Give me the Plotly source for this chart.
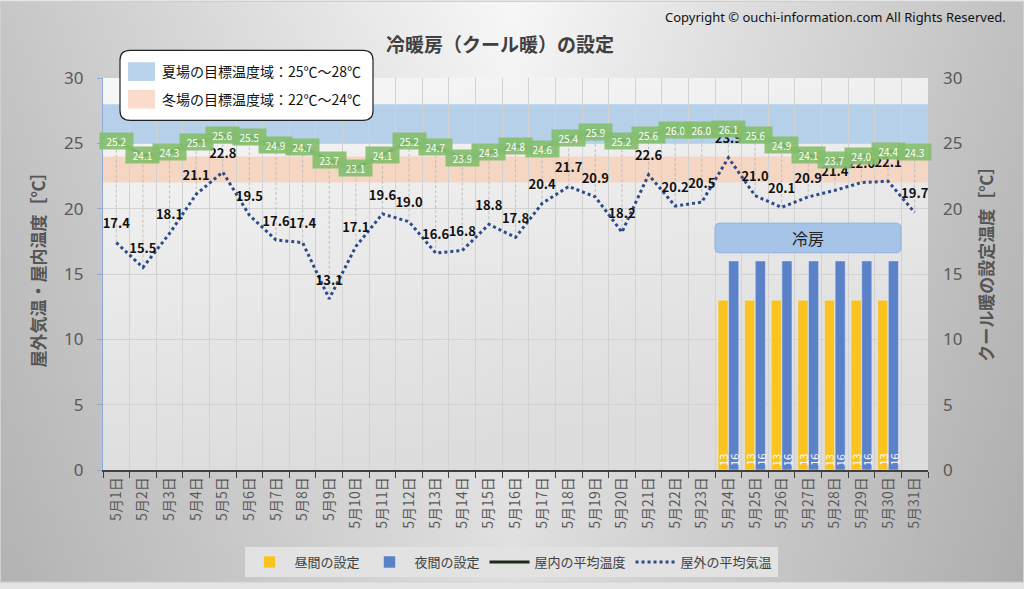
import base64
import plotly.graph_objects as go

# ---------------- data ----------------
days = ["5月1日", "5月2日", "5月3日", "5月4日", "5月5日", "5月6日", "5月7日", "5月8日",
        "5月9日", "5月10日", "5月11日", "5月12日", "5月13日", "5月14日", "5月15日", "5月16日",
        "5月17日", "5月18日", "5月19日", "5月20日", "5月21日", "5月22日", "5月23日", "5月24日",
        "5月25日", "5月26日", "5月27日", "5月28日", "5月29日", "5月30日", "5月31日"]
indoor = [25.2, 24.1, 24.3, 25.1, 25.6, 25.5, 24.9, 24.7, 23.7, 23.1, 24.1, 25.2, 24.7, 23.9, 24.3, 24.8,
          24.6, 25.4, 25.9, 25.2, 25.6, 26.0, 26.0, 26.1, 25.6, 24.9, 24.1, 23.7, 24.0, 24.4, 24.3]
outdoor = [17.4, 15.5, 18.1, 21.1, 22.8, 19.5, 17.6, 17.4, 13.1, 17.1, 19.6, 19.0, 16.6, 16.8, 18.8, 17.8,
           20.4, 21.7, 20.9, 18.2, 22.6, 20.2, 20.5, 23.9, 21.0, 20.1, 20.9, 21.4, 22.0, 22.1, 19.7]
day_setting = [None, None, None, None, None, None, None, None, None, None, None, None, None, None, None, None,
               None, None, None, None, None, None, None, 13, 13, 13, 13, 13, 13, 13, None]
night_setting = [None, None, None, None, None, None, None, None, None, None, None, None, None, None, None, None,
                 None, None, None, None, None, None, None, 16, 16, 16, 16, 16, 16, 16, None]
summer_band = [25, 28]
winter_band = [22, 24]
y_ticks = [0, 5, 10, 15, 20, 25, 30]

title_text = "冷暖房（クール暖）の設定"
copyright_text = "Copyright © ouchi-information.com All Rights Reserved."
left_title = "屋外気温・屋内温度［℃］"
right_title = "クール暖の設定温度［℃］"
summer_label = "夏場の目標温度域：25℃～28℃"
winter_label = "冬場の目標温度域：22℃～24℃"
mode_label = "冷房"

# ---------------- layout geometry ----------------
W, H = 1024, 589
ML, MR, MT, MB = 103, 96, 78, 114
PW = W - ML - MR
PH = H - MT - MB
FONT = "Noto Sans CJK JP, Noto Sans, sans-serif"


def fx(px):
    return (px - ML) / PW


def fy(py):
    return (H - MB - py) / PH


def rounded(x0, y0, x1, y1, r):
    a, b, c, d = fx(x0), fx(x1), fy(y0), fy(y1)  # c top, d bottom
    rx, ry = r / PW, r / PH
    return (f"M {a+rx},{c} L {b-rx},{c} Q {b},{c} {b},{c-ry} L {b},{d+ry} Q {b},{d} {b-rx},{d} "
            f"L {a+rx},{d} Q {a},{d} {a},{d+ry} L {a},{c-ry} Q {a},{c} {a+rx},{c} Z")


def svg_uri(svg):
    return "data:image/svg+xml;base64," + base64.b64encode(svg.encode()).decode()


paper_svg = ('<svg xmlns="http://www.w3.org/2000/svg" width="1024" height="589" preserveAspectRatio="none">'
             '<defs><linearGradient id="h" x1="0" y1="0" x2="1" y2="0">'
             '<stop offset="0" stop-color="#c6c6c6"/><stop offset="0.5" stop-color="#f7f7f7"/>'
             '<stop offset="1" stop-color="#c0c0c0"/></linearGradient>'
             '<linearGradient id="v" x1="0" y1="0" x2="0" y2="1">'
             '<stop offset="0" stop-color="#000" stop-opacity="0"/>'
             '<stop offset="1" stop-color="#000" stop-opacity="0.10"/></linearGradient></defs>'
             '<rect width="1024" height="589" fill="url(#h)"/><rect width="1024" height="589" fill="url(#v)"/>'
             '<rect x="0.5" y="0.5" width="1023" height="588" fill="none" stroke="#d0d0d0"/></svg>')
plot_svg = ('<svg xmlns="http://www.w3.org/2000/svg" width="825" height="397" preserveAspectRatio="none">'
            '<defs><linearGradient id="p" x1="0" y1="0" x2="0.3" y2="1">'
            '<stop offset="0" stop-color="#f7f7f7"/><stop offset="1" stop-color="#dcdcdc"/></linearGradient></defs>'
            '<rect width="825" height="397" fill="url(#p)"/></svg>')

fig = go.Figure()

# high-low dashed lines between outdoor and indoor
drop_x, drop_y = [], []
for d, lo, hi in zip(days, outdoor, indoor):
    drop_x += [d, d, None]
    drop_y += [lo, hi, None]
fig.add_trace(go.Scatter(x=drop_x, y=drop_y, mode="lines", showlegend=False, hoverinfo="skip",
                         line=dict(color="#b4b4b4", width=0.8, dash="3px,2px"), connectgaps=False))

fig.add_trace(go.Bar(x=days, y=day_setting, name="昼間の設定", marker_color="#fac31f", yaxis="y2"))
fig.add_trace(go.Bar(x=days, y=night_setting, name="夜間の設定", marker_color="#5b82c9", yaxis="y2"))

fig.add_trace(go.Scatter(x=days, y=indoor, name="屋内の平均温度", mode="lines",
                         line=dict(color="#1d2a18", width=3)))
fig.add_trace(go.Scatter(x=days, y=outdoor, name="屋外の平均気温", mode="lines+markers+text",
                         line=dict(color="#2d4b8c", width=3, dash="dot"),
                         marker=dict(size=16, color="rgba(0,0,0,0)"),
                         texttemplate="<b>%{y:.1f}</b>", textposition="top center",
                         textfont=dict(color="#111111", size=13, family=FONT)))

annotations = []
for d, v in zip(days, indoor):
    annotations.append(dict(x=d, y=v, xref="x", yref="y", text=f"{v:.1f}", showarrow=False,
                            bgcolor="rgba(132,190,110,0.92)", width=31, height=14, borderpad=1,
                            font=dict(color="white", size=10, family=FONT)))

# bar value labels (rotated, at the base of each bar)
for d, v in zip(days, day_setting):
    if v is not None:
        annotations.append(dict(x=d, y=0, xref="x", yref="y2", text=str(v), showarrow=False,
                                textangle=-90, yanchor="bottom", xshift=-5.5, yshift=2,
                                font=dict(color="white", size=11, family=FONT)))
for d, v in zip(days, night_setting):
    if v is not None:
        annotations.append(dict(x=d, y=0, xref="x", yref="y2", text=str(v), showarrow=False,
                                textangle=-90, yanchor="bottom", xshift=5.5, yshift=2,
                                font=dict(color="white", size=11, family=FONT)))


def pann(px, py, text, size, color, family=FONT, xanchor="center", angle=0):
    return dict(x=fx(px), y=fy(py), xref="paper", yref="paper", text=text, showarrow=False,
                xanchor=xanchor, yanchor="middle", textangle=angle,
                font=dict(size=size, color=color, family=family))


annotations += [
    pann(500, 43, f"<b>{title_text}</b>", 19, "#404040"),
    pann(1008, 16, copyright_text, 13, "#111111", family="Noto Sans, sans-serif", xanchor="right"),
    pann(38, 268, f"<b>{left_title}</b>", 17, "#555555", angle=-90),
    pann(986, 262, f"<b>{right_title}</b>", 17, "#555555", angle=-90),
    pann(160, 71, summer_label, 14, "#111111", xanchor="left"),
    pann(160, 99, winter_label, 14, "#111111", xanchor="left"),
    pann(808, 240, mode_label, 16, "#222222"),
]

shapes = [
    dict(type="rect", xref="x domain", yref="y", x0=0, x1=1, y0=summer_band[0], y1=summer_band[1],
         fillcolor="#b6d0ea", line_width=0, layer="below"),
    dict(type="rect", xref="x domain", yref="y", x0=0, x1=1, y0=winter_band[0], y1=winter_band[1],
         fillcolor="#f5d6c3", line_width=0, layer="below"),
    dict(type="path", xref="paper", yref="paper", path=rounded(120, 50, 373, 121, 10),
         fillcolor="white", line=dict(color="#222222", width=1.2), layer="above"),
    dict(type="rect", xref="paper", yref="paper", x0=fx(128), x1=fx(155), y0=fy(81), y1=fy(62),
         fillcolor="#bad3ec", line_width=0),
    dict(type="rect", xref="paper", yref="paper", x0=fx(128), x1=fx(155), y0=fy(109), y1=fy(90),
         fillcolor="#f9dccb", line_width=0),
    dict(type="path", xref="paper", yref="paper", path=rounded(715, 225, 901, 255, 5),
         fillcolor="#a6c4e8", line=dict(color="#8fb0dc", width=1), layer="above"),
]

images = [
    dict(source=svg_uri(paper_svg), xref="paper", yref="paper", x=fx(0), y=fy(0),
         sizex=W / PW, sizey=H / PH, sizing="stretch", layer="below", xanchor="left", yanchor="top"),
    dict(source=svg_uri(plot_svg), xref="paper", yref="paper", x=0, y=1,
         sizex=1, sizey=1, sizing="stretch", layer="below", xanchor="left", yanchor="top"),
]

fig.update_layout(
    width=W, height=H,
    margin=dict(l=ML, r=MR, t=MT, b=MB),
    paper_bgcolor="#e4e4e4",
    plot_bgcolor="rgba(0,0,0,0)",
    font=dict(family=FONT, color="#595959"),
    barmode="group", bargap=0.2, bargroupgap=0.05,
    showlegend=True,
    hovermode=False,
    legend=dict(orientation="h", x=fx(511), xanchor="center", y=fy(553), yanchor="top",
                bgcolor="#e2e2e2", font=dict(size=13, color="#404040", family=FONT),
                itemwidth=40, tracegroupgap=0),
    xaxis=dict(type="category", categoryorder="array", categoryarray=days, tickson="boundaries",
               range=[-0.5, 30.5],
               showgrid=True, gridcolor="#d2d2d2", gridwidth=1,
               showline=True, linecolor="#404040", linewidth=1.5,
               ticks="outside", ticklen=6, tickcolor="#404040",
               tickangle=-90, tickfont=dict(size=14, color="#595959", family=FONT)),
    yaxis=dict(range=[0, 30], tickvals=y_ticks, showgrid=True, gridcolor="#d2d2d2", zeroline=False,
               showline=True, linecolor="#8eaadb", linewidth=1.2,
               ticks="outside", ticklen=5, tickcolor="#8eaadb", ticklabelstandoff=10,
               tickfont=dict(size=17, color="#595959", family="Noto Sans, sans-serif")),
    yaxis2=dict(range=[0, 30], tickvals=y_ticks, overlaying="y", side="right", showgrid=False,
                zeroline=False, showline=False, ticks="", ticklabelstandoff=14,
                tickfont=dict(size=17, color="#595959", family="Noto Sans, sans-serif")),
    annotations=annotations,
    shapes=shapes,
    images=images,
)

fig.write_html("out.html", config={"displayModeBar": False},
               post_script="document.body.style.margin='0';")
